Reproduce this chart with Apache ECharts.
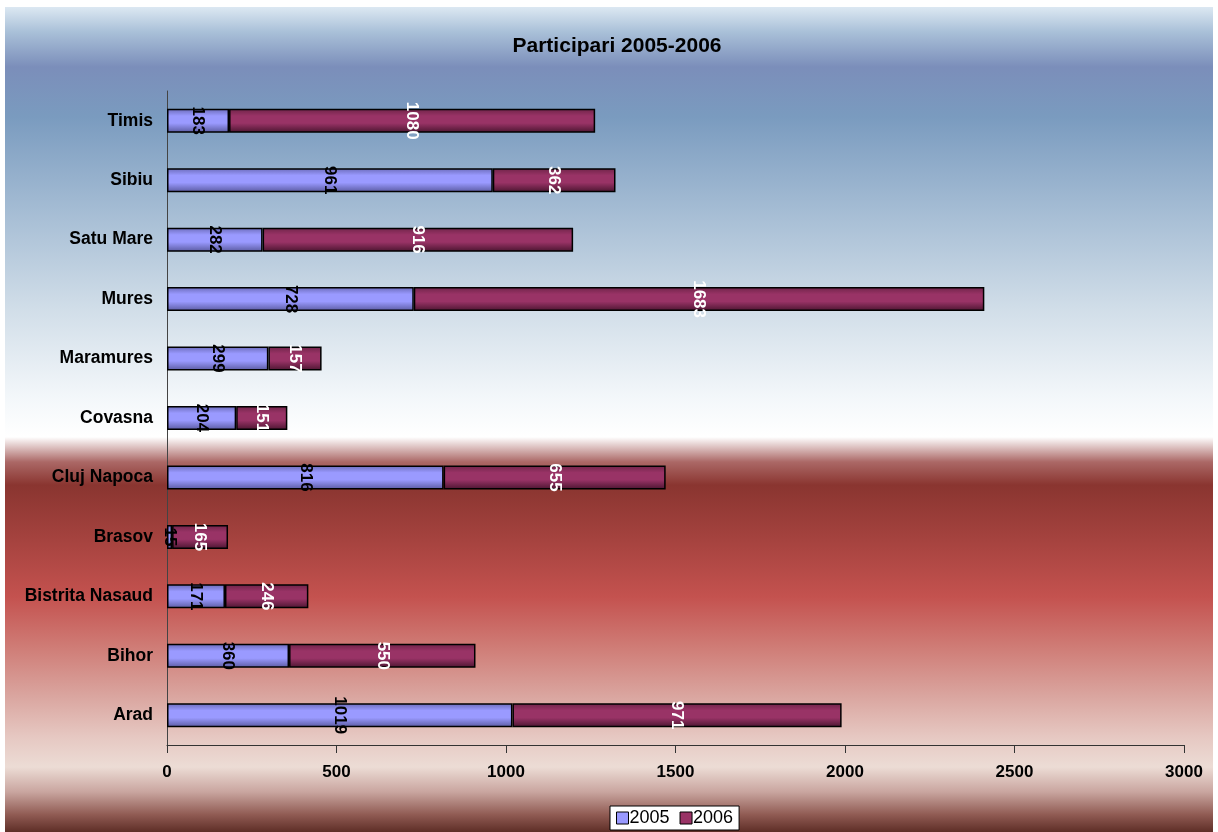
<!DOCTYPE html>
<html>
<head>
<meta charset="utf-8">
<script src="https://cdn.jsdelivr.net/npm/echarts@6/dist/echarts.min.js"></script>
<style>
html,body{margin:0;padding:0;background:#fff;}
#bg{position:absolute;left:5px;top:7px;width:1208px;height:825px;
background:linear-gradient(to bottom,
#dce8f2 0px,#a9c0d8 25px,#7b8eba 60px,#7a9bbf 110px,#a3bbd3 200px,#d0dde8 300px,#f3f7fa 390px,#ffffff 430px,
#ab6866 455px,#8a3530 478px,#a4423e 530px,#c4524f 590px,#cf7c76 640px,#daa6a0 690px,#e6c8c2 730px,#ecdcd5 760px,#c9a59f 785px,#8f5a52 808px,#5e2e27 825px);}
#c{position:absolute;left:0;top:0;width:1218px;height:832px;}
</style>
</head>
<body>
<div id="bg"></div>
<div id="c"></div>
<script>
const categories = ['Arad','Bihor','Bistrita Nasaud','Brasov','Cluj Napoca','Covasna','Maramures','Mures','Satu Mare','Sibiu','Timis'];
const values2005 = [1019,360,171,15,816,204,299,728,282,961,183];
const values2006 = [971,550,246,165,655,151,157,1683,916,362,1080];
const xTicks = {min:0,max:3000,interval:500};

const chart = echarts.init(document.getElementById('c'), null, {renderer:'canvas'});
const font = 'Liberation Sans, Arial, sans-serif';
function grad(edge, mid, edgeBottom){
  return new echarts.graphic.LinearGradient(0,0,0,1,[
    {offset:0,color:edge},{offset:0.3,color:mid},{offset:0.6,color:mid},{offset:1,color:edgeBottom}
  ]);
}
chart.setOption({
  animation:false,
  title:{text:'Participari 2005-2006',left:612,textAlign:'center',top:31,
    textStyle:{fontFamily:font,fontSize:21,fontWeight:'bold',color:'#000'}},
  grid:{left:167,right:34,top:91,bottom:87,containLabel:false},
  legend:{bottom:2,left:610,itemWidth:12,itemHeight:12,itemGap:10,
    backgroundColor:'#fff',borderColor:'#000',borderWidth:1,padding:[3,6,3,6],
    textStyle:{fontFamily:font,fontSize:18,color:'#000',padding:[0,0,0,-4]},
    data:[{name:'2005',icon:'rect',itemStyle:{color:'#9999ff',borderColor:'#000',borderWidth:1}},
          {name:'2006',icon:'rect',itemStyle:{color:'#993366',borderColor:'#000',borderWidth:1}}]},
  xAxis:{type:'value',min:xTicks.min,max:xTicks.max,interval:xTicks.interval,
    splitLine:{show:false},
    axisLine:{show:true,lineStyle:{color:'#333',width:1}},
    axisTick:{show:true,length:8,lineStyle:{color:'#333'}},
    axisLabel:{fontFamily:font,fontSize:17,fontWeight:'bold',color:'#000',margin:19,
      formatter:function(v){return String(v);}}},
  yAxis:{type:'category',data:categories,
    axisLine:{show:true,lineStyle:{color:'#444',width:1}},
    axisTick:{show:false},
    axisLabel:{fontFamily:font,fontSize:17.5,fontWeight:'bold',color:'#000',margin:14}},
  series:[
    {name:'2005',type:'bar',stack:'t',barWidth:24,data:values2005,
     itemStyle:{color:grad('#6a6ab8','#9a9aff','#5a5aa0'),borderColor:'#000',borderWidth:1.5},
     label:{show:true,position:'inside',rotate:-90,align:'center',verticalAlign:'middle',
       fontFamily:font,fontSize:17,fontWeight:'bold',color:'#000'}},
    {name:'2006',type:'bar',stack:'t',barWidth:24,data:values2006,
     itemStyle:{color:grad('#6e2448','#993366','#4a1530'),borderColor:'#000',borderWidth:1.5},
     label:{show:true,position:'inside',rotate:-90,align:'center',verticalAlign:'middle',
       fontFamily:font,fontSize:17,fontWeight:'bold',color:'#fff'}}
  ]
});
</script>
</body>
</html>
